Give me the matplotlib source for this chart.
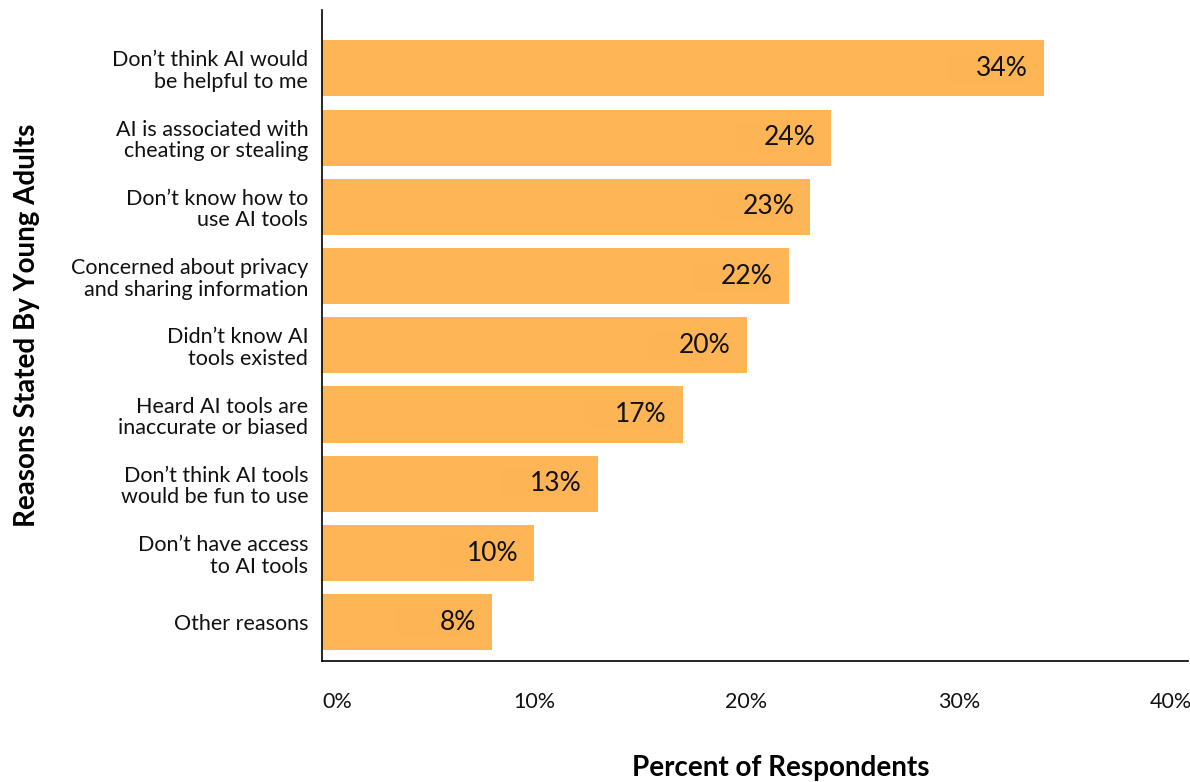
import matplotlib.pyplot as plt

plt.rcParams['font.family'] = ['Lato', 'DejaVu Sans']

reasons = [
    "Don\u2019t think AI would\nbe helpful to me",
    "AI is associated with\ncheating or stealing",
    "Don\u2019t know how to\nuse AI tools",
    "Concerned about privacy\nand sharing information",
    "Didn\u2019t know AI\ntools existed",
    "Heard AI tools are\ninaccurate or biased",
    "Don\u2019t think AI tools\nwould be fun to use",
    "Don\u2019t have access\nto AI tools",
    "Other reasons",
]
percents = [34, 24, 23, 22, 20, 17, 13, 10, 8]
xticks = [0, 10, 20, 30, 40]
xtick_labels = ["0%", "10%", "20%", "30%", "40%"]

bar_color = '#FDB556'
label_box_color = '#FCB455'

fig = plt.figure(figsize=(11.9, 7.82), dpi=100)
ax = fig.add_axes([0.2706, 0.1547, 0.7277, 0.8323])

y = list(range(len(reasons)))
ax.barh(y, percents, height=0.81, color=bar_color)

# faint box behind each value label, fixed width, ending just inside the bar
box_w = 3.85
ax.barh(y, [box_w] * len(y), left=[p - 0.7 - box_w for p in percents],
        height=0.42, color=label_box_color)

for yi, p in zip(y, percents):
    ax.text(p - 0.75, yi, f"{p}%", ha='right', va='center', fontsize=19,
            color='#111111')

ax.set_ylim(len(reasons) - 1 + 0.56, -0.84)
ax.set_xlim(0, 40.8)
ax.set_yticks(y)
ax.set_yticklabels(reasons, fontsize=15.5, ha='right', color='#111111',
                   linespacing=1.1)
ax.set_xticks(xticks)
ax.set_xticklabels(xtick_labels, fontsize=15.5, color='#111111')
ax.get_xticklabels()[0].set_ha('left')
ax.tick_params(axis='x', length=0, pad=22)
ax.tick_params(axis='y', length=0, pad=10)

for side in ['top', 'right']:
    ax.spines[side].set_visible(False)
ax.spines['left'].set_linewidth(1.2)
ax.spines['bottom'].set_linewidth(1.2)

fig.text(0.656, 0.018, "Percent of Respondents", ha='center', va='center',
         fontsize=20, fontweight='bold')
fig.text(0.023, 0.584, "Reasons Stated By Young Adults", ha='center', va='center',
         rotation=90, fontsize=20, fontweight='bold')

fig.savefig('out.png', dpi=100)
